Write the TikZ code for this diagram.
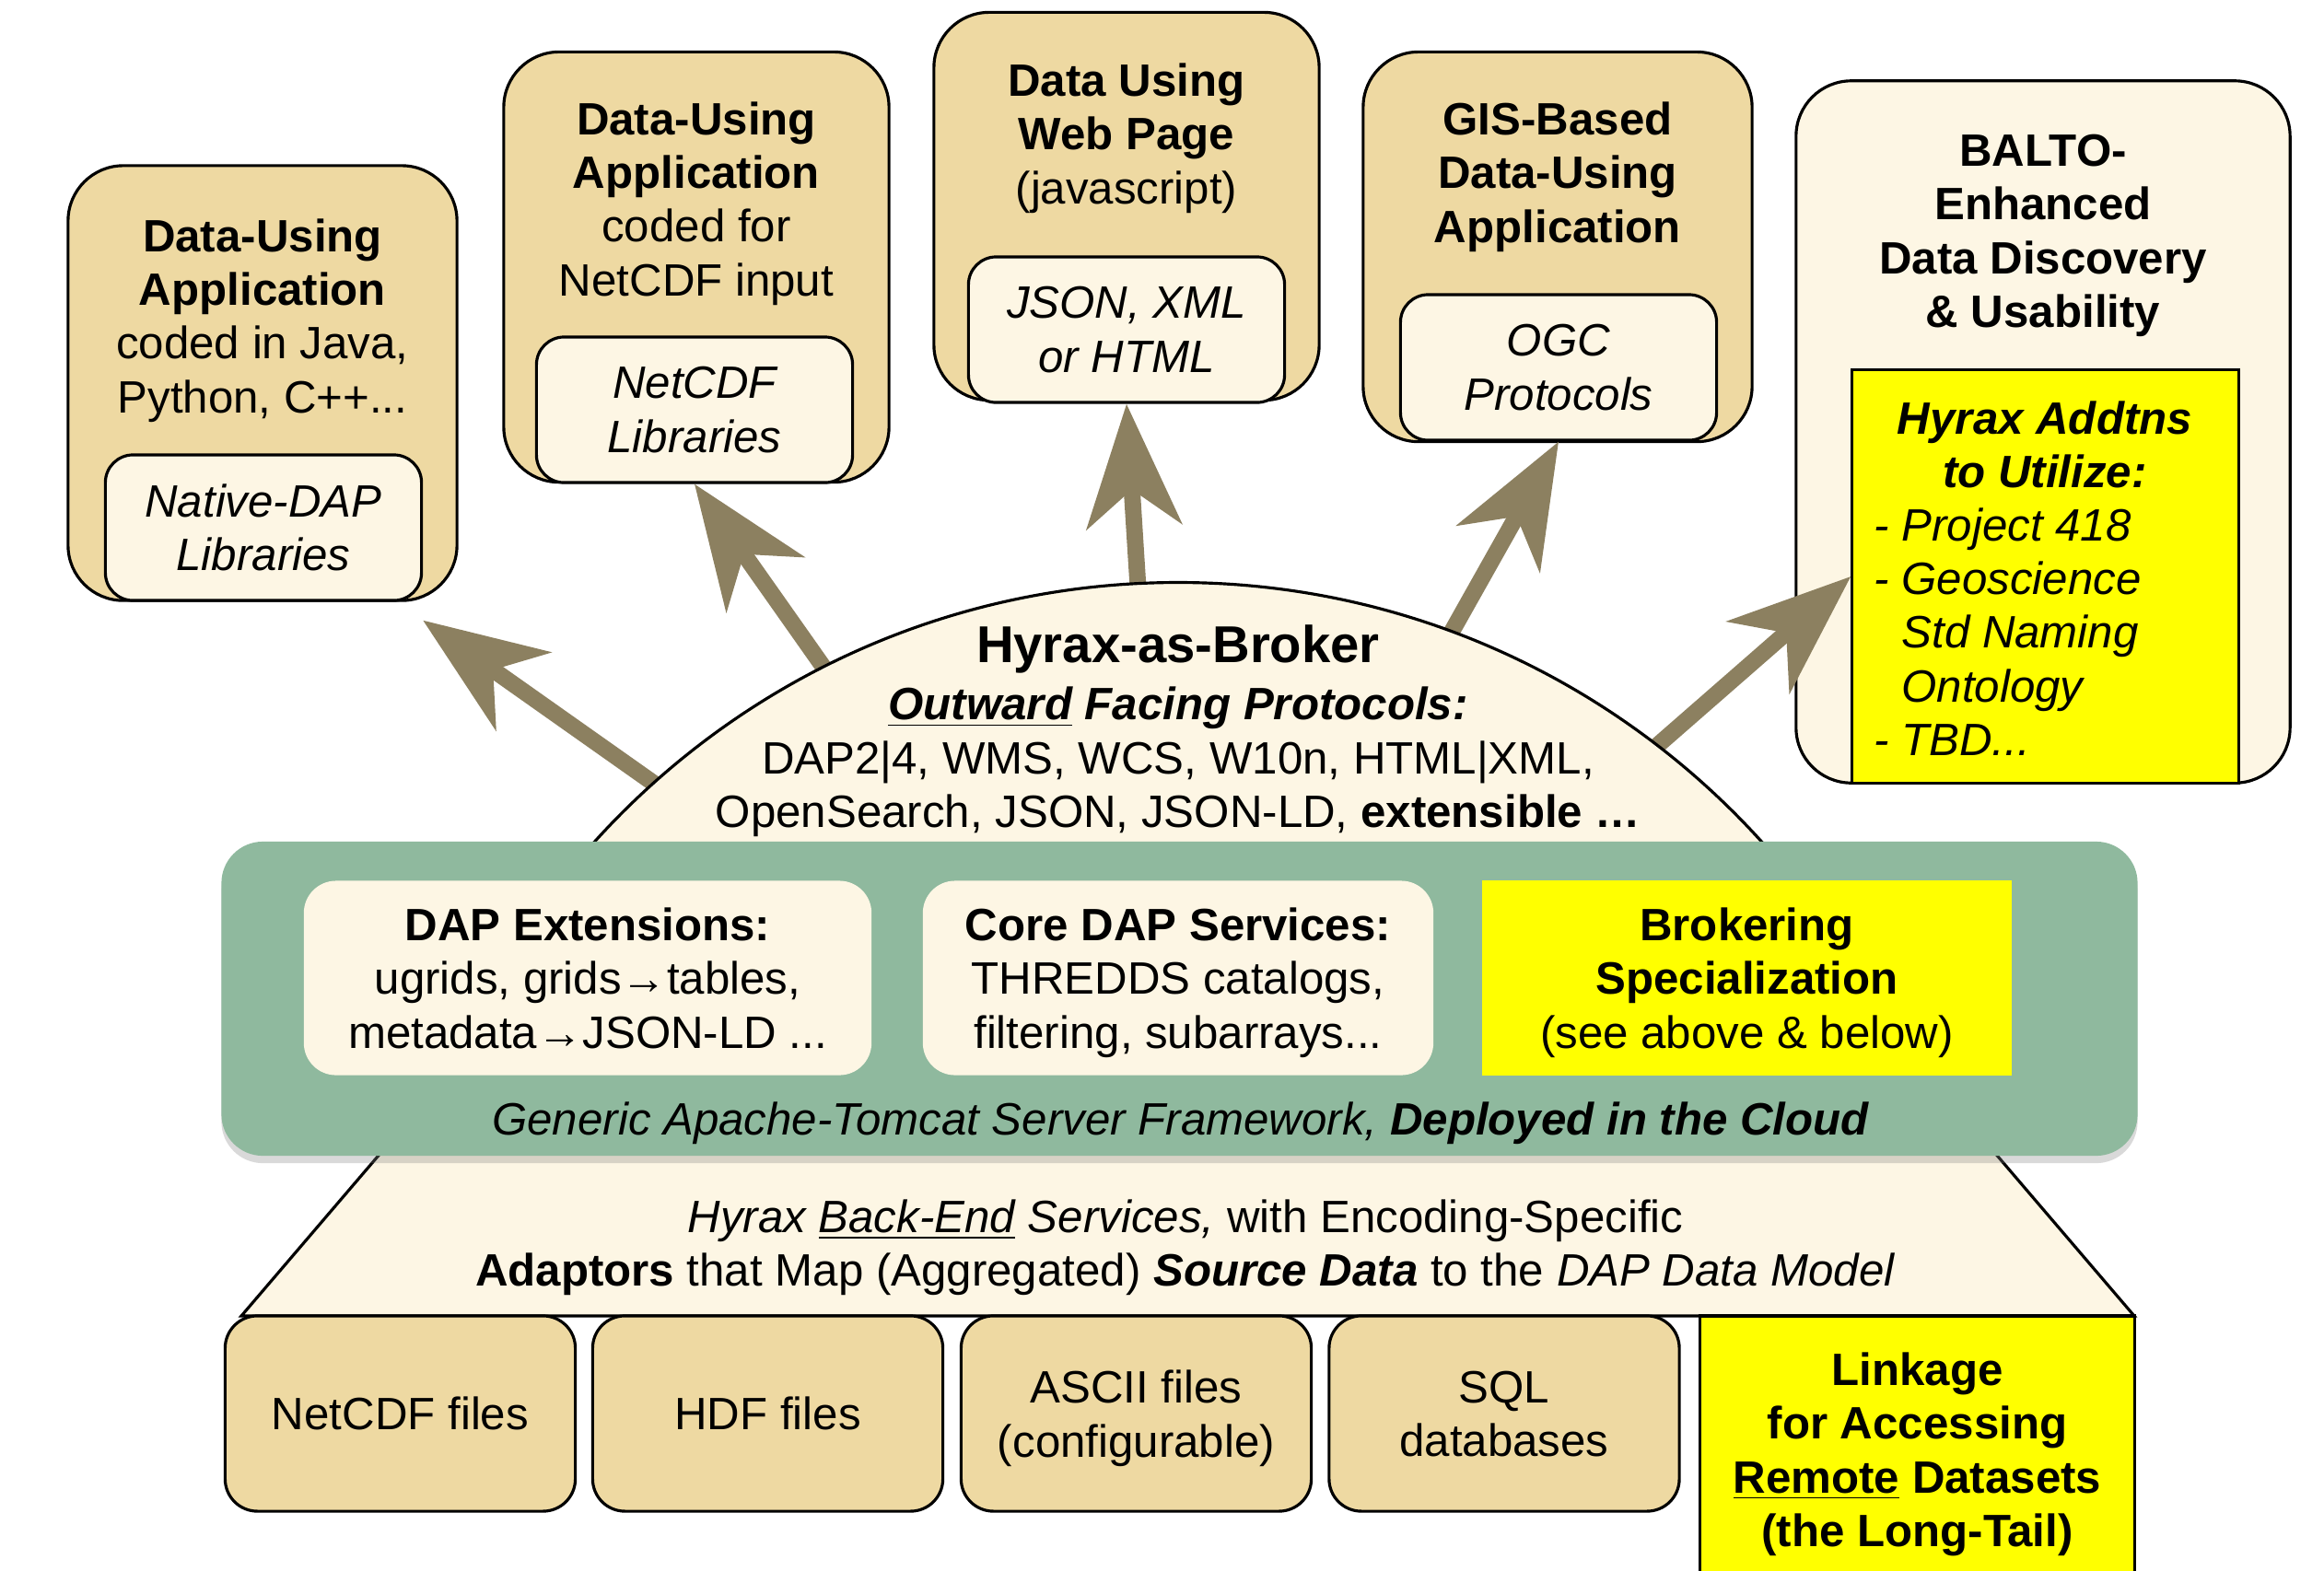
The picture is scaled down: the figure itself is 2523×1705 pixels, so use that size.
\documentclass[tikz,border=0pt]{standalone}
\usepackage{fontspec}
\setmainfont{Liberation Sans}
\usetikzlibrary{arrows.meta,shadows}
\definecolor{appfill}{RGB}{238,217,162}
\definecolor{libfill}{RGB}{253,246,228}
\definecolor{cloudgreen}{RGB}{143,185,158}
\definecolor{arrowbrown}{RGB}{140,128,96}
\definecolor{hiyellow}{RGB}{255,255,0}
\newcommand{\txtsize}{\fontsize{14}{16.6}\selectfont}
\tikzset{
  txt/.style={font=\txtsize, align=center},
  appbox/.style={draw, line width=0.9pt, fill=appfill, rounded corners=0.6cm},
  libbox/.style={draw, line width=0.9pt, fill=libfill, rounded corners=0.3cm, minimum width=3.43cm, minimum height=1.58cm, txt, font=\txtsize\itshape},
  hlbox/.style={draw, line width=0.9pt, fill=hiyellow},
  svcbox/.style={fill=libfill, rounded corners=0.35cm, minimum height=2.11cm, txt, text depth=0pt},
  srcbox/.style={draw, line width=0.9pt, fill=appfill, rounded corners=0.35cm, minimum width=3.8cm, minimum height=2.12cm, txt, text depth=0pt},
  cloudbox/.style={fill=cloudgreen, rounded corners=0.45cm, drop shadow={opacity=0.3, shadow xshift=0pt, shadow yshift=-0.08cm}},
  bigarrow/.style={draw=arrowbrown, line width=5.1pt, -{Stealth[length=1.33cm, width=1.03cm, inset=0.4cm]}}
}
\begin{document}
\begin{tikzpicture}[x=0.01cm, y=-0.01cm]
	\useasboundingbox (0,0) rectangle (2523,1705);
	\node [appbox, minimum width=4.22cm, minimum height=4.72cm] (app1) at (285,416) {};
	\node [txt] (t1) at (285,348) {\textbf{Data-Using}\\\textbf{Application}\\coded in Java,\\Python, C++...};
	\node [libbox] (lib1) at (286,573) {Native-DAP\\Libraries};
	\node [appbox, minimum width=4.18cm, minimum height=4.67cm] (app2) at (756,290) {};
	\node [txt] (t2) at (756,221) {\textbf{Data-Using}\\\textbf{Application}\\coded for\\NetCDF input};
	\node [libbox] (lib2) at (754,445) {NetCDF\\Libraries};
	\node [appbox, minimum width=4.18cm, minimum height=4.21cm] (app3) at (1223,224) {};
	\node [txt] (t3) at (1223,150) {\textbf{Data Using}\\\textbf{Web Page}\\(javascript)};
	\node [libbox] (lib3) at (1223,358) {JSON, XML\\or HTML};
	\node [appbox, minimum width=4.22cm, minimum height=4.23cm] (app4) at (1691,268) {};
	\node [txt] (t4) at (1691,192) {\textbf{GIS-Based}\\\textbf{Data-Using}\\\textbf{Application}};
	\node [libbox] (lib4) at (1692,399) {OGC\\Protocols};
	\node [appbox, fill=libfill, minimum width=5.36cm, minimum height=7.62cm] (balto) at (2218,469) {};
	\node [txt, font=\txtsize\bfseries] (t5) at (2218,256) {BALTO-\\Enhanced\\Data Discovery\\\& Usability};
	\node [hlbox, minimum width=4.19cm, minimum height=4.48cm] (utilize) at (2220.5,626) {};
	\node [txt, font=\txtsize\bfseries\itshape] (uhead) at (2220,483) {Hyrax Addtns\\to Utilize:};
	\node [txt, align=left, anchor=west, font=\txtsize\itshape] (ulist) at (2022,686) {- Project 418\\- Geoscience\\\hphantom{- }Std Naming\\\hphantom{- }Ontology\\- TBD...};
	\coordinate (d1) at (740,872);
	\coordinate (d2) at (905,740);
	\coordinate (d3) at (1237,662);
	\coordinate (d4) at (1567,702);
	\coordinate (d5) at (1785,822);
	\draw [bigarrow] (d1) -- ([yshift=-0.2cm]lib1.south east);
	\draw [bigarrow] (d2) -- (lib2.south);
	\draw [bigarrow] (d3) -- (lib3.south);
	\draw [bigarrow] (d4) -- (lib4.south);
	\draw [bigarrow] (d5) -- (utilize.west);
	\coordinate (domec) at (1279,1486);
	\begin{scope}
		\clip (0,0) rectangle (2523,950);
		\draw [fill=libfill, line width=0.9pt] (domec) circle [radius=8.53cm];
	\end{scope}
	\fill [libfill] (415,1250) -- (262,1429) -- (2317,1429) -- (2164,1250) -- cycle;
	\draw [line width=0.9pt] (415,1250) -- (262,1429) -- (2317,1429) -- (2164,1250);
	\node [cloudbox, minimum width=20.79cm, minimum height=3.41cm] (cloud) at (1280.5,1084.5) {};
	\node [svcbox, minimum width=6.16cm] (dapx) at (638,1062) {\textbf{DAP Extensions:}\\ugrids, grids→tables,\\metadata→JSON-LD ...};
	\node [svcbox, minimum width=5.54cm] (core) at (1279,1062) {\textbf{Core DAP Services:}\\THREDDS catalogs,\\filtering, subarrays...};
	\node [svcbox, fill=hiyellow, rounded corners=0pt, minimum width=5.75cm] (brok) at (1896.5,1062) {\textbf{Brokering}\\\textbf{Specialization}\\(see above \& below)};
	\node [txt] (frame) at (1282,1220) {\textit{Generic Apache-Tomcat Server Framework, \textbf{Deployed in the Cloud}}};
	\node [txt] (broker) at (1279,794) {{\fontsize{16}{19}\selectfont\bfseries Hyrax-as-Broker}\\[1pt]\textbf{\textit{\underline{Outward} Facing Protocols:}}\\DAP2|4, WMS, WCS, W10n, HTML|XML,\\OpenSearch, JSON, JSON-LD, \textbf{extensible \dots}};
	\node [txt] (adapt) at (1287,1355) {\textit{Hyrax \underline{Back-End} Services,} with Encoding-Specific\\\textbf{Adaptors} that Map (Aggregated) \textbf{\textit{Source Data}} to the \textit{DAP Data Model}};
	\node [srcbox] (ncf) at (434.5,1535) {NetCDF files};
	\node [srcbox] (hdf) at (833.5,1535) {HDF files};
	\node [srcbox] (ascii) at (1233.5,1535) {ASCII files\\(configurable)};
	\node [srcbox] (sql) at (1633,1535) {SQL\\databases};
	\node [hlbox, txt, text depth=0pt, minimum width=4.71cm, minimum height=2.9cm] (link) at (2081.5,1574) {\textbf{Linkage}\\\textbf{for Accessing}\\\textbf{\underline{Remote} Datasets}\\\textbf{(the Long-Tail)}};
\end{tikzpicture}
\end{document}
